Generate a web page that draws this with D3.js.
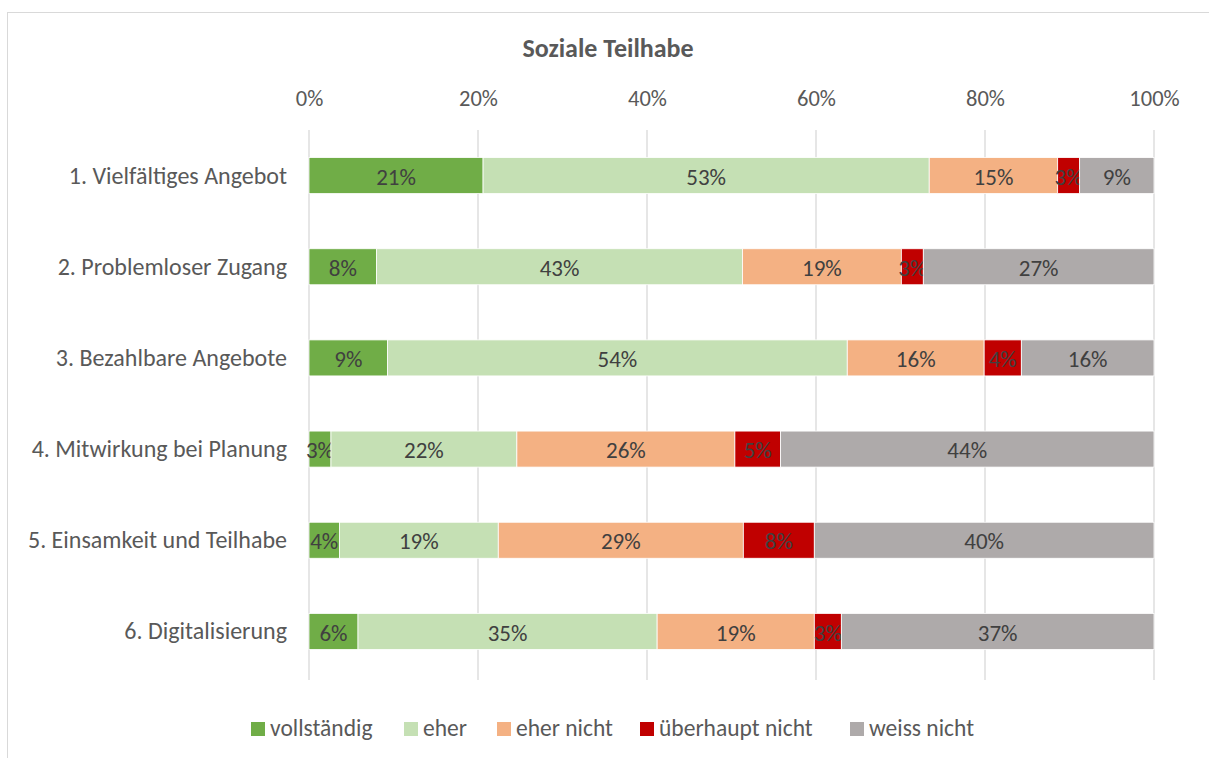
<!DOCTYPE html>
<html>
<head>
<meta charset="utf-8">
<script src="https://cdn.jsdelivr.net/npm/d3@7"></script>
<style>
  body { margin: 0; background: #fff; }
  svg { font-family: Carlito, Lato, "Open Sans", sans-serif; }
</style>
</head>
<body>
<svg id="chart" width="1209" height="758"></svg>
<script>
// categories and series (percent of answers)
var categories = ["1. Vielfältiges Angebot", "2. Problemloser Zugang", "3. Bezahlbare Angebote",
                  "4. Mitwirkung bei Planung", "5. Einsamkeit und Teilhabe", "6. Digitalisierung"];
var seriesNames = ["vollständig", "eher", "eher nicht", "überhaupt nicht", "weiss nicht"];
var vollstaendig    = [20.6,  8.0,  9.3,  2.6,  3.6,  5.8];
var eher            = [52.8, 43.3, 54.4, 22.0, 18.8, 35.4];
var eherNicht       = [15.2, 18.8, 16.2, 25.8, 29.0, 18.6];
var ueberhauptNicht = [ 2.6,  2.6,  4.4,  5.4,  8.4,  3.2];
var weissNicht      = [ 8.8, 27.3, 15.7, 44.2, 40.2, 37.0];
var xTicks = [0, 20, 40, 60, 80, 100];

var colors = ["#70ad47", "#c5e0b4", "#f4b183", "#c00000", "#aeaaaa"];

var rows = categories.map(function(c, i){
    return {cat: c, s0: vollstaendig[i], s1: eher[i], s2: eherNicht[i], s3: ueberhauptNicht[i], s4: weissNicht[i]};
});
var keys = ["s0", "s1", "s2", "s3", "s4"];
var stacked = d3.stack().keys(keys)(rows);

var svg = d3.select("#chart");

// outer chart border
svg.append("rect")
    .attr("x", 7.5).attr("y", 12.5)
    .attr("width", 1240).attr("height", 800)
    .attr("fill", "none").attr("stroke", "#d9d9d9");

var x = d3.scaleLinear().domain([0, 100]).range([309, 1154]);
var y = d3.scaleBand().domain(categories).range([130, 677]).paddingInner(0.605).paddingOuter(0.3025);

// title
svg.append("text")
    .attr("x", 608).attr("y", 57)
    .attr("text-anchor", "middle")
    .attr("font-size", 26).attr("font-weight", "bold")
    .attr("fill", "#595959")
    .text("Soziale Teilhabe");

// gridlines
svg.append("g")
    .selectAll("line")
    .data(xTicks)
    .join("line")
    .attr("x1", function(d){ return x(d); })
    .attr("x2", function(d){ return x(d); })
    .attr("y1", 130).attr("y2", 680)
    .attr("stroke", "#d9d9d9").attr("stroke-width", 1.3);

// top axis labels
var xAxis = svg.append("g")
    .attr("transform", "translate(0,106)")
    .call(d3.axisTop(x).tickValues(xTicks).tickFormat(function(d){ return d + "%"; }).tickSize(0).tickPadding(0))
    .attr("font-family", null).attr("font-size", null);
xAxis.select(".domain").remove();
xAxis.selectAll("text").attr("font-size", 22.5).attr("fill", "#595959").attr("dy", 0);

// category axis
var yAxis = svg.append("g")
    .attr("transform", "translate(287,0)")
    .call(d3.axisLeft(y).tickSize(0).tickPadding(0))
    .attr("font-family", null).attr("font-size", null);
yAxis.select(".domain").remove();
yAxis.selectAll("text").attr("font-size", 24).attr("fill", "#595959").attr("dy", "0.33em");

// bars
var fmt = d3.format(".0f");
var layer = svg.append("g")
    .selectAll("g")
    .data(stacked)
    .join("g")
    .attr("fill", function(d, i){ return colors[i]; });

layer.selectAll("rect")
    .data(function(d){ return d; })
    .join("rect")
    .attr("x", function(d){ return x(d[0]); })
    .attr("y", function(d){ return y(d.data.cat); })
    .attr("width", function(d){ return x(d[1]) - x(d[0]); })
    .attr("height", y.bandwidth())
    .attr("stroke", "#ffffff").attr("stroke-width", 0.8);

layer.selectAll("text")
    .data(function(d){ return d; })
    .join("text")
    .attr("x", function(d){ return (x(d[0]) + x(d[1])) / 2; })
    .attr("y", function(d){ return y(d.data.cat) + y.bandwidth() / 2; })
    .attr("dy", "0.4em")
    .attr("text-anchor", "middle")
    .attr("font-size", 23)
    .attr("fill", "#404040")
    .text(function(d){ return fmt(d[1] - d[0]) + "%"; });

// legend
var legendX = [251, 404, 497, 640, 850];
var legend = svg.append("g")
    .selectAll("g")
    .data(seriesNames)
    .join("g")
    .attr("transform", function(d, i){ return "translate(" + legendX[i] + ",736)"; });
legend.append("rect")
    .attr("x", 0).attr("y", -14)
    .attr("width", 14).attr("height", 14)
    .attr("fill", function(d, i){ return colors[i]; });
legend.append("text")
    .attr("x", 19)
    .attr("font-size", 23.5).attr("fill", "#595959")
    .text(function(d){ return d; });
</script>
</body>
</html>
